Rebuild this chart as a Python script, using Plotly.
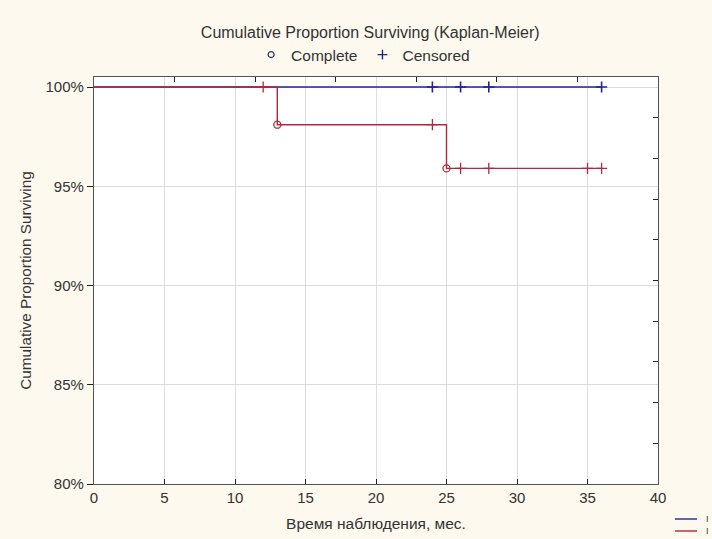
import plotly.graph_objects as go

# ---- data ----
blue_times = [0, 24, 26, 28, 36]
blue_surv = [100, 100, 100, 100, 100]
blue_cens_times = [24, 26, 28, 36]
blue_cens_surv = [100, 100, 100, 100]

red_times = [0, 12, 13, 24, 25, 26, 28, 35, 36]
red_surv = [100, 100, 98.1, 98.1, 95.9, 95.9, 95.9, 95.9, 95.9]
red_event_times = [13, 25]
red_event_surv = [98.1, 95.9]
red_cens_times = [12, 24, 26, 28, 35, 36]
red_cens_surv = [100, 98.1, 95.9, 95.9, 95.9, 95.9]

group_names = ["I", "I"]

y_ticks = [80, 85, 90, 95, 100]
y_tick_labels = ["80%", "85%", "90%", "95%", "100%"]
x_ticks = [0, 5, 10, 15, 20, 25, 30, 35, 40]

BLUE = "#23239C"
RED = "#B3283A"
FONT = "Liberation Sans, Arial, sans-serif"
TXT = "#333333"

fig = go.Figure()

# survival curves
fig.add_trace(go.Scatter(x=blue_times, y=blue_surv, mode="lines", showlegend=False,
                         line=dict(color=BLUE, width=1.4, shape="hv")))
fig.add_trace(go.Scatter(x=red_times, y=red_surv, mode="lines", showlegend=False,
                         line=dict(color=RED, width=1.4, shape="hv")))
# censored markers
fig.add_trace(go.Scatter(x=blue_cens_times, y=blue_cens_surv, mode="markers", showlegend=False,
                         marker=dict(symbol="cross-thin", size=8, line=dict(color=BLUE, width=1.6))))
fig.add_trace(go.Scatter(x=red_cens_times, y=red_cens_surv, mode="markers", showlegend=False,
                         marker=dict(symbol="cross-thin", size=8, line=dict(color=RED, width=1.3))))
# complete (event) markers
fig.add_trace(go.Scatter(x=red_event_times, y=red_event_surv, mode="markers", showlegend=False,
                         marker=dict(symbol="circle-open", size=7, color=RED, line=dict(color=RED, width=1.3))))

# top legend entries
fig.add_trace(go.Scatter(x=[None], y=[None], mode="markers", name="Complete",
                         marker=dict(symbol="circle-open", size=6, color="#333355", line=dict(width=1.2))))
fig.add_trace(go.Scatter(x=[None], y=[None], mode="markers", name="Censored",
                         marker=dict(symbol="cross-thin", size=7, line=dict(color="#22228A", width=1.4))))

# helper trace for mirrored axes
fig.add_trace(go.Scatter(x=[None], y=[None], xaxis="x2", yaxis="y2", showlegend=False, hoverinfo="skip"))

# bottom-right group legend (decoration)
legend_rows = [(519, BLUE, group_names[0]), (531, RED, group_names[1])]
shapes = []
annotations = []
for ypx, col, nm in legend_rows:
    shapes.append(dict(type="line", xref="paper", yref="paper",
                       x0=(675 - 94) / 564, x1=(697 - 94) / 564,
                       y0=(484 - ypx) / 407, y1=(484 - ypx) / 407,
                       line=dict(color=col, width=1.4)))
    annotations.append(dict(text=nm, xref="paper", yref="paper", x=(704 - 94) / 564,
                            y=(484 - ypx) / 407, xanchor="left", yanchor="middle",
                            showarrow=False, font=dict(size=9, color=TXT)))

fig.update_layout(
    width=712, height=539,
    margin=dict(l=94, r=54, t=77, b=55, autoexpand=False),
    paper_bgcolor="#FDF9EF",
    plot_bgcolor="#FFFFFF",
    font=dict(family=FONT, size=15, color=TXT),
    title=dict(text="Cumulative Proportion Surviving (Kaplan-Meier)", x=0.52, xanchor="center",
               xref="container", yref="container",
               y=1 - 32 / 539, yanchor="middle", font=dict(size=16, color=TXT)),
    xaxis=dict(range=[0, 40], tickvals=x_ticks, ticks="inside", ticklen=5, tickcolor="#222222",
               showgrid=True, gridcolor="#DCDCDC", gridwidth=1, zeroline=False, automargin=False,
               showline=True, linecolor="#555555", linewidth=1.3,
               title=dict(text="Время наблюдения, мес.", font=dict(size=15.5), standoff=12),
               tickfont=dict(size=15)),
    yaxis=dict(range=[80, 100.504], tickvals=y_ticks, ticktext=y_tick_labels, ticks="outside",
               ticklen=6, tickcolor="#222222", showgrid=True, gridcolor="#DCDCDC", zeroline=False,
               showline=True, linecolor="#555555", linewidth=1.3, automargin=False,
               title=dict(text="Cumulative Proportion Surviving", font=dict(size=15.3), standoff=10),
               tickfont=dict(size=15)),
    xaxis2=dict(range=[0, 7], tickvals=[1, 2, 3, 4, 5, 6], showticklabels=False, ticks="inside",
                ticklen=5, tickcolor="#222222", overlaying="x", side="top", anchor="y",
                showgrid=False, zeroline=False, showline=True, linecolor="#555555", linewidth=1.3),
    yaxis2=dict(range=[0, 10], tickvals=[1, 2, 3, 4, 5, 6, 7, 8, 9], showticklabels=False,
                ticks="inside", ticklen=5, tickcolor="#222222", overlaying="y", side="right",
                anchor="x", showgrid=False, zeroline=False, showline=True, linecolor="#555555",
                linewidth=1.3),
    legend=dict(orientation="h", xref="container", yref="container", x=0.51, xanchor="center",
                y=1 - 55 / 539, yanchor="middle",
                bgcolor="rgba(0,0,0,0)", font=dict(size=15.5, color=TXT), itemwidth=30),
    shapes=shapes,
    annotations=annotations,
)

fig.write_html("out.html", config={"displayModeBar": False},
               post_script="document.body.style.margin='0px';document.body.style.padding='0px';")
